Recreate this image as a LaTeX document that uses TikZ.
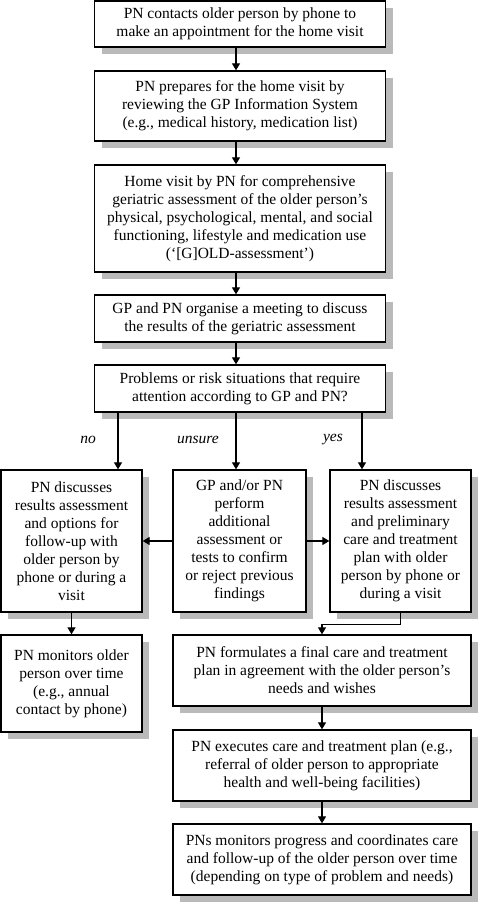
\documentclass[tikz,border=0pt]{standalone}
\usepackage{fontspec}
\setmainfont{Liberation Serif}
\usetikzlibrary{arrows.meta,shadows}
\begin{document}
\begin{tikzpicture}[x=1pt,y=-1pt,
  box/.style={draw,line width=1.3pt,fill=white,align=center,inner sep=0pt,
    font=\fontsize{15.5pt}{18pt}\selectfont,
    drop shadow={shadow xshift=7pt,shadow yshift=-7pt,fill=black!27,opacity=1}},
  arr/.style={line width=1.1pt,-{Triangle[length=7pt,width=8pt]}},
  lbl/.style={font=\fontsize{15.5pt}{18pt}\selectfont\itshape}]
\useasboundingbox (0,0) rectangle (480,904);
\node[box,minimum width=291pt,minimum height=46pt] (B1) at (240,24)
  {PN contacts older person by phone to\\make an appointment for the home visit};
\node[box,minimum width=291pt,minimum height=70pt] (B2) at (240,106)
  {PN prepares for the home visit by\\reviewing the GP Information System\\(e.g., medical history, medication list)};
\node[box,minimum width=291pt,minimum height=107pt] (B3) at (240,218.5)
  {Home visit by PN for comprehensive\\geriatric assessment of the older person’s\\physical, psychological, mental, and social\\functioning, lifestyle and medication use\\(‘[G]OLD-assessment’)};
\node[box,minimum width=291pt,minimum height=47pt] (B4) at (240,318.5)
  {GP and PN organise a meeting to discuss\\the results of the geriatric assessment};
\node[box,minimum width=291pt,minimum height=47pt] (B5) at (240,388.5)
  {Problems or risk situations that require\\attention according to GP and PN?};
\node[box,minimum width=141pt,minimum height=142pt] (L) at (71.5,541)
  {PN discusses\\results assessment\\and options for\\follow-up with\\older person by\\phone or during a\\visit};
\node[box,minimum width=133pt,minimum height=142pt] (M) at (239.5,541)
  {GP and/or PN\\perform\\additional\\assessment or\\tests to confirm\\or reject previous\\findings};
\node[box,minimum width=141pt,minimum height=142pt] (R) at (400.5,541)
  {PN discusses\\results assessment\\and preliminary\\care and treatment\\plan with older\\person by phone or\\during a visit};
\node[box,minimum width=141pt,minimum height=97pt] (LM) at (71.5,683.5)
  {PN monitors older\\person over time\\(e.g., annual\\contact by phone)};
\node[box,minimum width=298pt,minimum height=71pt] (F) at (322,670.5)
  {PN formulates a final care and treatment\\plan in agreement with the older person’s\\needs and wishes};
\node[box,minimum width=298pt,minimum height=71pt] (E) at (322,765.5)
  {PN executes care and treatment plan (e.g.,\\referral of older person to appropriate\\health and well-being facilities)};
\node[box,minimum width=298pt,minimum height=71pt] (P) at (322,859.5)
  {PNs monitors progress and coordinates care\\and follow-up of the older person over time\\(depending on type of problem and needs)};
\draw[arr] (236,0 |- B1.south) -- (236,0 |- B2.north);
\draw[arr] (236,0 |- B2.south) -- (236,0 |- B3.north);
\draw[arr] (236,0 |- B3.south) -- (236,0 |- B4.north);
\draw[arr] (236,0 |- B4.south) -- (236,0 |- B5.north);
\draw[arr] (118,0 |- B5.south) -- (118,0 |- L.north);
\draw[arr] (236,0 |- B5.south) -- (236,0 |- M.north);
\draw[arr] (362,0 |- B5.south) -- (362,0 |- R.north);
\node[lbl] (no) at (88,440) {no};
\node[lbl] (un) at (198,440) {unsure};
\node[lbl] (ye) at (333,440) {yes};
\draw[arr] (M.west) -- (L.east);
\draw[arr] (M.east) -- (R.west);
\draw[arr] (L.south) -- (LM.north);
\draw[arr] (R.south) -- ++(0,12) -| (F.north);
\draw[arr] (F.south) -- (E.north);
\draw[arr] (E.south) -- (P.north);
\end{tikzpicture}
\end{document}
